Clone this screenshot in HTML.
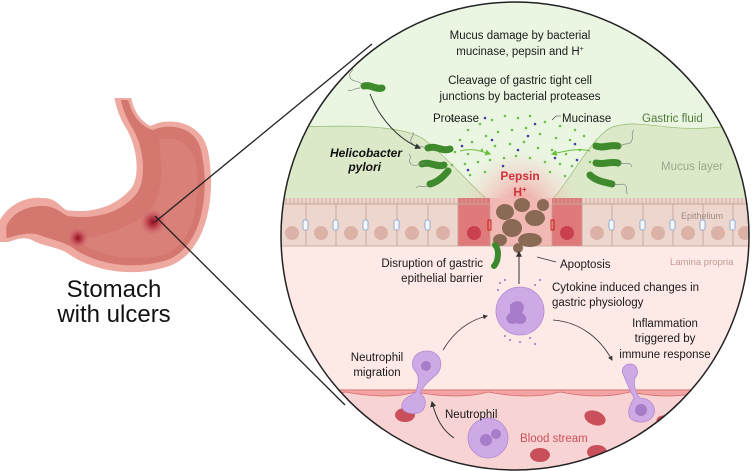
<!DOCTYPE html>
<html><head><meta charset="utf-8"><style>
html,body{margin:0;padding:0;background:#fff;width:755px;height:471px;overflow:hidden}
svg{display:block}
text{font-family:"Liberation Sans",sans-serif}
</style></head><body>
<svg width="755" height="471" viewBox="0 0 755 471" xmlns="http://www.w3.org/2000/svg">
<defs>
<clipPath id="c"><circle cx="515" cy="236" r="234"/></clipPath>
<radialGradient id="glow" cx="0.5" cy="0.5" r="0.5"><stop offset="0" stop-color="#f28b8b" stop-opacity="0.9"/><stop offset="1" stop-color="#f9c6c6" stop-opacity="0"/></radialGradient>
<radialGradient id="ulc" cx="0.5" cy="0.5" r="0.5"><stop offset="0" stop-color="#8a1020"/><stop offset="0.4" stop-color="#c0454f"/><stop offset="1" stop-color="#d9767a" stop-opacity="0"/></radialGradient>
<marker id="ah" viewBox="0 0 10 10" refX="8" refY="5" markerWidth="6" markerHeight="6" orient="auto"><path d="M0,0 L10,5 L0,10 z" fill="#333"/></marker>
<marker id="ag" viewBox="0 0 10 10" refX="8" refY="5" markerWidth="6" markerHeight="6" orient="auto"><path d="M0,0 L10,5 L0,10 z" fill="#6cbf3a"/></marker>
</defs>

<!-- Stomach -->
<g transform="scale(1.06,1)">
<path d="M108,98 L124,98 C126,112 134,122 142,126 C160,116 190,122 196,150 C204,190 198,250 160,266 C120,280 82,268 62,252 C50,246 40,246 30,240 C22,236 14,240 8,242 L0,242 L0,220 C8,205 24,196 40,198 C52,198 56,205 62,210 C88,214 110,206 124,188 C132,176 130,150 120,130 C114,120 110,110 108,98 Z" fill="#eeaaa0"/>
<path d="M114,100 L121,100 C124,114 132,126 144,130 C162,122 186,128 190,152 C198,190 192,246 158,260 C120,272 86,262 66,246 C54,240 44,238 34,234 C24,232 16,236 6,238 L6,226 C12,212 26,206 40,206 C52,206 56,212 64,216 C92,220 116,212 130,192 C138,176 136,150 126,130 C120,120 116,110 114,100 Z" fill="#d4776f"/>
<path d="M150,140 C172,134 186,150 186,175 C188,220 176,250 150,256 C120,262 90,254 70,240 C100,236 130,226 145,205 C155,185 152,160 150,140 Z" fill="#dc8880" opacity="0.6"/>
</g>
<circle cx="153" cy="222" r="14" fill="url(#ulc)"/>
<circle cx="78" cy="238" r="11" fill="url(#ulc)"/>
<text x="114" y="297" font-size="24" text-anchor="middle" fill="#111">Stomach</text>
<text x="114" y="322" font-size="24" text-anchor="middle" fill="#111">with ulcers</text>

<!-- connector lines -->
<line x1="155" y1="222" x2="372" y2="44" stroke="#222" stroke-width="1.3"/>
<line x1="155" y1="216" x2="345" y2="405" stroke="#222" stroke-width="1.3"/>

<!-- Circle content -->
<g clip-path="url(#c)">
<rect x="270" y="0" width="490" height="471" fill="#eaf6e2"/>
<path d="M270,128 C330,126 400,122 425,140 C450,160 470,185 488,200 L552,200 C570,180 590,140 610,128 C630,120 650,126 680,128 C710,130 740,124 760,124 L760,200 L270,200 Z" fill="#dbe9c9" stroke="#9fbf7e" stroke-width="0.8"/>
<ellipse cx="520" cy="205" rx="60" ry="55" fill="url(#glow)"/>
<rect x="270" y="198" width="490" height="48" fill="#ecd6cd"/>
<rect x="270" y="246" width="490" height="146" fill="#fde9e5"/>
<rect x="458" y="198" width="32" height="48" fill="#e07a7a"/>
<rect x="552" y="198" width="30" height="48" fill="#e07a7a"/>
<rect x="490" y="198" width="62" height="48" fill="#f4b0ad" opacity="0.8"/>
<path d="M270,204 H490 M552,204 H760" stroke="#c9a79b" stroke-width="1"/>
<g stroke="#c4a092" stroke-width="0.8" fill="none">
<path d="M270,198 v6 M274,198 v6 M278,198 v6 M282,198 v6 M286,198 v6 M290,198 v6 M294,198 v6 M298,198 v6 M302,198 v6 M306,198 v6 M310,198 v6 M314,198 v6 M318,198 v6 M322,198 v6 M326,198 v6 M330,198 v6 M334,198 v6 M338,198 v6 M342,198 v6 M346,198 v6 M350,198 v6 M354,198 v6 M358,198 v6 M362,198 v6 M366,198 v6 M370,198 v6 M374,198 v6 M378,198 v6 M382,198 v6 M386,198 v6 M390,198 v6 M394,198 v6 M398,198 v6 M402,198 v6 M406,198 v6 M410,198 v6 M414,198 v6 M418,198 v6 M422,198 v6 M426,198 v6 M430,198 v6 M434,198 v6 M438,198 v6 M442,198 v6 M446,198 v6 M450,198 v6 M454,198 v6 M458,198 v6 M462,198 v6 M466,198 v6 M470,198 v6 M474,198 v6 M478,198 v6 M482,198 v6 M486,198 v6"/>
<path d="M554,198 v6 M558,198 v6 M562,198 v6 M566,198 v6 M570,198 v6 M574,198 v6 M578,198 v6 M582,198 v6 M586,198 v6 M590,198 v6 M594,198 v6 M598,198 v6 M602,198 v6 M606,198 v6 M610,198 v6 M614,198 v6 M618,198 v6 M622,198 v6 M626,198 v6 M630,198 v6 M634,198 v6 M638,198 v6 M642,198 v6 M646,198 v6 M650,198 v6 M654,198 v6 M658,198 v6 M662,198 v6 M666,198 v6 M670,198 v6 M674,198 v6 M678,198 v6 M682,198 v6 M686,198 v6 M690,198 v6 M694,198 v6 M698,198 v6 M702,198 v6 M706,198 v6 M710,198 v6 M714,198 v6 M718,198 v6 M722,198 v6 M726,198 v6 M730,198 v6 M734,198 v6 M738,198 v6 M742,198 v6 M746,198 v6 M750,198 v6"/>
<path d="M306,204 V246 M336,204 V246 M366,204 V246 M397,204 V246 M428,204 V246 M458,204 V246 M490,204 V246 M552,204 V246 M582,204 V246 M612,204 V246 M643,204 V246 M673,204 V246 M703,204 V246 M733,204 V246 M270,246 H760"/>
</g>
<g fill="#dcb2a6">
<circle cx="292" cy="233" r="7"/><circle cx="321" cy="233" r="7"/><circle cx="351" cy="233" r="7"/><circle cx="381" cy="233" r="7"/><circle cx="412" cy="233" r="7"/><circle cx="443" cy="233" r="7"/>
<circle cx="597" cy="233" r="7"/><circle cx="628" cy="233" r="7"/><circle cx="658" cy="233" r="7"/><circle cx="688" cy="233" r="7"/><circle cx="718" cy="233" r="7"/><circle cx="745" cy="233" r="7"/>
</g>
<circle cx="474" cy="233" r="7" fill="#c9414c"/><circle cx="567" cy="233" r="7" fill="#c9414c"/>
<g fill="#f4f7ff" stroke="#7da0cc" stroke-width="0.8">
<rect x="303" y="220" width="5" height="10" rx="2"/><rect x="333" y="220" width="5" height="10" rx="2"/><rect x="363" y="220" width="5" height="10" rx="2"/><rect x="394" y="220" width="5" height="10" rx="2"/><rect x="425" y="220" width="5" height="10" rx="2"/>
<rect x="609" y="220" width="5" height="10" rx="2"/><rect x="640" y="220" width="5" height="10" rx="2"/><rect x="670" y="220" width="5" height="10" rx="2"/><rect x="700" y="220" width="5" height="10" rx="2"/><rect x="730" y="220" width="5" height="10" rx="2"/>
</g>
<rect x="488" y="220" width="3" height="10" fill="none" stroke="#c00" stroke-width="0.8"/>
<rect x="551" y="220" width="3" height="10" fill="none" stroke="#c00" stroke-width="0.8"/>
<g fill="#8a6a55">
<ellipse cx="505" cy="212" rx="9" ry="8"/><ellipse cx="522" cy="205" rx="8" ry="7"/><ellipse cx="535" cy="218" rx="10" ry="8"/><ellipse cx="512" cy="228" rx="10" ry="9"/><ellipse cx="500" cy="240" rx="7" ry="6"/><ellipse cx="530" cy="240" rx="12" ry="7"/><ellipse cx="543" cy="205" rx="6" ry="6"/><ellipse cx="518" cy="248" rx="5" ry="5"/>
</g>
<path d="M495,245 C500,250 498,262 494,266" stroke="#3d8a2c" stroke-width="6" fill="none" stroke-linecap="round"/>

<!-- vessel -->
<rect x="270" y="390" width="490" height="90" fill="#f8d3d3"/>
<path d="M270,390 H760" stroke="#d96a6a" stroke-width="1"/>
<path d="M270,392 Q320,400 345,392 Q390,400 415,392 Q460,400 488,392 Q530,400 560,392 Q600,400 630,392 Q670,400 700,392 Q730,400 760,392 V390 H270Z" fill="#f2a3a3" stroke="#d86a6a" stroke-width="0.8"/>
<g fill="#c9505a">
<ellipse cx="286" cy="420" rx="11" ry="8" transform="rotate(20 286 420)"/><ellipse cx="405" cy="415" rx="10" ry="7"/><ellipse cx="352" cy="440" rx="11" ry="7" transform="rotate(-15 352 440)"/><ellipse cx="595" cy="418" rx="11" ry="7" transform="rotate(20 595 418)"/><ellipse cx="597" cy="452" rx="10" ry="7"/><ellipse cx="667" cy="423" rx="11" ry="7" transform="rotate(20 667 423)"/><ellipse cx="540" cy="455" rx="10" ry="7"/><ellipse cx="320" cy="465" rx="10" ry="7"/>
</g>
<!-- neutrophils -->
<g fill="#cda9e6" stroke="#b48ad0" stroke-width="0.8">
<circle cx="520" cy="311" r="24"/>
<path d="M427,351 C440,351 445,365 437,374 C430,380 424,385 420,393 C424,396 428,402 423,410 C417,416 405,414 402,408 C400,400 410,396 416,392 C418,383 420,378 416,372 C408,364 414,351 427,351 Z"/>
<path d="M630,364 C637,364 640,372 635,378 C633,384 636,394 640,398 C650,398 656,406 654,414 C650,424 636,424 630,418 C626,410 632,402 634,398 C630,390 626,382 624,376 C620,370 624,364 630,364 Z"/>
<circle cx="488" cy="438" r="20"/>
</g>
<g fill="#a77cc8"><path d="M510,305 c8,-8 18,-2 12,8 c8,4 4,14 -6,10 c-8,4 -14,-6 -6,-10z"/><circle cx="486" cy="440" r="6"/><circle cx="496" cy="434" r="5"/><circle cx="426" cy="366" r="5"/><circle cx="641" cy="410" r="6"/></g>
<g fill="#9a74c0">
<circle cx="500" cy="283" r="1"/><circle cx="505" cy="280" r="1"/><circle cx="540" cy="280" r="1"/><circle cx="535" cy="285" r="1"/><circle cx="510" cy="340" r="1"/><circle cx="520" cy="342" r="1"/><circle cx="530" cy="338" r="1"/><circle cx="505" cy="336" r="1"/><circle cx="535" cy="344" r="1"/><circle cx="498" cy="290" r="1"/>
</g>

<g fill="#6cc04a">
<circle cx="468" cy="130" r="1.3"/><circle cx="480" cy="124" r="1.3"/><circle cx="492" cy="120" r="1.3"/><circle cx="505" cy="116" r="1.3"/><circle cx="518" cy="118" r="1.3"/><circle cx="530" cy="116" r="1.3"/><circle cx="545" cy="122" r="1.3"/><circle cx="560" cy="126" r="1.3"/><circle cx="575" cy="130" r="1.3"/>
<circle cx="460" cy="140" r="1.3"/><circle cx="472" cy="142" r="1.3"/><circle cx="486" cy="136" r="1.3"/><circle cx="498" cy="132" r="1.3"/><circle cx="512" cy="130" r="1.3"/><circle cx="526" cy="128" r="1.3"/><circle cx="540" cy="134" r="1.3"/><circle cx="556" cy="138" r="1.3"/><circle cx="570" cy="140" r="1.3"/><circle cx="584" cy="136" r="1.3"/>
<circle cx="455" cy="152" r="1.3"/><circle cx="468" cy="154" r="1.3"/><circle cx="482" cy="150" r="1.3"/><circle cx="495" cy="146" r="1.3"/><circle cx="510" cy="144" r="1.3"/><circle cx="524" cy="142" r="1.3"/><circle cx="538" cy="148" r="1.3"/><circle cx="552" cy="150" r="1.3"/><circle cx="566" cy="154" r="1.3"/><circle cx="580" cy="150" r="1.3"/>
<circle cx="465" cy="164" r="1.3"/><circle cx="478" cy="162" r="1.3"/><circle cx="490" cy="160" r="1.3"/><circle cx="504" cy="158" r="1.3"/><circle cx="516" cy="156" r="1.3"/><circle cx="530" cy="158" r="1.3"/><circle cx="545" cy="162" r="1.3"/><circle cx="560" cy="164" r="1.3"/><circle cx="572" cy="166" r="1.3"/>
<circle cx="470" cy="175" r="1.3"/><circle cx="485" cy="172" r="1.3"/><circle cx="550" cy="172" r="1.3"/><circle cx="565" cy="176" r="1.3"/><circle cx="452" cy="165" r="1.3"/><circle cx="590" cy="162" r="1.3"/>
</g>
<g fill="#3d3fa0">
<circle cx="485" cy="118" r="1.3"/><circle cx="535" cy="124" r="1.3"/><circle cx="462" cy="146" r="1.3"/><circle cx="492" cy="140" r="1.3"/><circle cx="528" cy="136" r="1.3"/><circle cx="575" cy="144" r="1.3"/><circle cx="518" cy="150" r="1.3"/><circle cx="555" cy="158" r="1.3"/><circle cx="468" cy="170" r="1.3"/><circle cx="577" cy="160" r="1.3"/><circle cx="503" cy="166" r="1.3"/>
</g>

<g stroke="#3f8a2c" stroke-width="7" stroke-linecap="round" fill="none">
<path d="M364,86 C370,84 376,90 382,88"/>
<path d="M428,148 C436,145 442,152 450,149"/>
<path d="M422,164 C430,161 437,168 444,165"/>
<path d="M430,184 C438,182 444,176 448,171"/>
<path d="M596,146 C604,149 610,144 618,146"/>
<path d="M596,163 C604,165 610,161 618,163"/>
<path d="M590,175 C596,181 604,182 612,184"/>
</g>
<g stroke="#888" stroke-width="0.7" fill="none">
<path d="M362,85 c-4,-6 -10,-2 -12,-8 c-2,-6 4,-4 2,-10 M360,88 c-6,0 -8,4 -12,2"/>
<path d="M425,148 c-6,-4 -10,0 -14,-6 c-2,-4 4,-6 2,-10 M425,164 c-6,-2 -8,4 -14,0 c-4,-4 2,-6 -2,-10 M428,186 c-6,2 -8,-2 -12,2"/>
<path d="M620,146 c6,-4 10,0 12,-6 c2,-4 -2,-6 2,-10 M620,163 c6,2 10,-2 12,4 M614,184 c6,2 8,-2 12,2 c2,4 -2,6 2,8"/>
</g>

<path d="M370,94 C380,120 400,140 420,148" stroke="#333" stroke-width="1" fill="none" marker-end="url(#ah)"/>
<path d="M460,151 C470,148 478,150 490,154" stroke="#6cbf3a" stroke-width="1" fill="none" marker-end="url(#ag)"/>
<path d="M590,151 C580,148 570,150 552,154" stroke="#6cbf3a" stroke-width="1" fill="none" marker-end="url(#ag)"/>
<path d="M519,284 V252" stroke="#333" stroke-width="1" fill="none" marker-end="url(#ah)"/>
<path d="M443,350 C455,330 470,320 487,316" stroke="#333" stroke-width="0.8" fill="none" marker-end="url(#ah)"/>
<path d="M553,320 C580,322 600,338 612,360" stroke="#333" stroke-width="0.8" fill="none" marker-end="url(#ah)"/>
<path d="M454,438 C442,430 436,418 432,402" stroke="#333" stroke-width="1" fill="none" marker-end="url(#ah)"/>
<path d="M537,257 L556,262" stroke="#333" stroke-width="0.8"/>
<path d="M449,118 L458,122" stroke="#333" stroke-width="0.6"/>
<path d="M552,120 L556,116 L561,116" stroke="#333" stroke-width="0.6" fill="none"/>
</g>
<circle cx="515" cy="236" r="234" fill="none" stroke="#222" stroke-width="1.5"/>

<g font-size="11.5" fill="#1a1a1a" text-anchor="middle">
<text x="520" y="39">Mucus damage by bacterial</text>
<text x="520" y="55">mucinase, pepsin and H<tspan font-size="7" dy="-4">+</tspan></text>
<text x="520" y="84">Cleavage of gastric tight cell</text>
<text x="520" y="100">junctions by bacterial proteases</text>
</g>
<text x="433" y="122" font-size="11.5" fill="#1a1a1a">Protease</text>
<text x="562" y="122" font-size="11.5" fill="#1a1a1a">Mucinase</text>
<text x="642" y="122" font-size="11.5" fill="#4e7a3a">Gastric fluid</text>
<text x="661" y="170" font-size="11.5" fill="#9aa88e">Mucus layer</text>
<text x="681" y="219" font-size="9" fill="#a08a86">Epithelium</text>
<text x="670" y="265" font-size="9.5" fill="#c59a94">Lamina propria</text>
<text x="402" y="157" font-size="12" font-weight="bold" font-style="italic" text-anchor="end" fill="#111">Helicobacter</text>
<text x="381" y="171" font-size="12" font-weight="bold" font-style="italic" text-anchor="end" fill="#111">pylori</text>
<text x="520" y="180" font-size="12" font-weight="bold" text-anchor="middle" fill="#d0303a">Pepsin</text>
<text x="520" y="196" font-size="12" font-weight="bold" text-anchor="middle" fill="#d0303a">H<tspan font-size="8" dy="-4">+</tspan></text>
<g font-size="11.5" fill="#1a1a1a">
<text x="483" y="267" text-anchor="end">Disruption of gastric</text>
<text x="483" y="282" text-anchor="end">epithelial barrier</text>
<text x="560" y="268">Apoptosis</text>
<text x="552" y="291">Cytokine induced changes in</text>
<text x="552" y="306">gastric physiology</text>
<text x="665" y="327" text-anchor="middle">Inflammation</text>
<text x="665" y="342" text-anchor="middle">triggered by</text>
<text x="665" y="358" text-anchor="middle">immune response</text>
<text x="377" y="361" text-anchor="middle">Neutrophil</text>
<text x="377" y="376" text-anchor="middle">migration</text>
<text x="445" y="418">Neutrophil</text>
</g>
<text x="520" y="442" font-size="11.5" fill="#c9505a">Blood stream</text>
</svg>
</body></html>
